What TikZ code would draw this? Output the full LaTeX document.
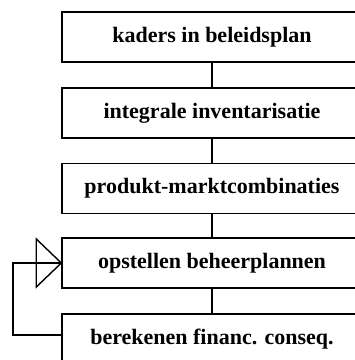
\documentclass[tikz,border=0pt]{standalone}
\usepackage{fontspec}
\setmainfont{Liberation Serif}
\begin{document}
\begin{tikzpicture}[x=1pt,y=1pt,
  stepbox/.style={draw, line width=1.4pt, minimum width=300pt, minimum height=50pt,
    inner sep=0pt, font=\fontsize{22}{26}\selectfont\bfseries},
  link/.style={line width=1.4pt}]
\useasboundingbox (0,0) rectangle (355,-360);
\clip (0,0) rectangle (355,-360);
% process steps
\node[stepbox] (b1) at (212,-37) {kaders in beleidsplan};
\node[stepbox] (b2) at (212,-113) {integrale inventarisatie};
\node[stepbox] (b3) at (212,-188.5) {produkt-marktcombinaties};
\node[stepbox] (b4) at (212,-263) {opstellen beheerplannen};
\node[stepbox] (b5) at (212,-339) {berekenen financ. conseq.};
% vertical links
\draw[link] (b1) -- (b2);
\draw[link] (b2) -- (b3);
\draw[link] (b3) -- (b4);
\draw[link] (b4) -- (b5);
% feedback loop with open triangle head
\coordinate (fb) at ([yshift=4pt]b5.west);
\coordinate (lx) at (13,0);
\draw[link] (fb) -- (fb -| lx) |- (b4.west);
\draw[link, line join=miter] (b4.west) -- ++(-25,24) -- ++(0,-48) -- cycle;
\end{tikzpicture}
\end{document}
